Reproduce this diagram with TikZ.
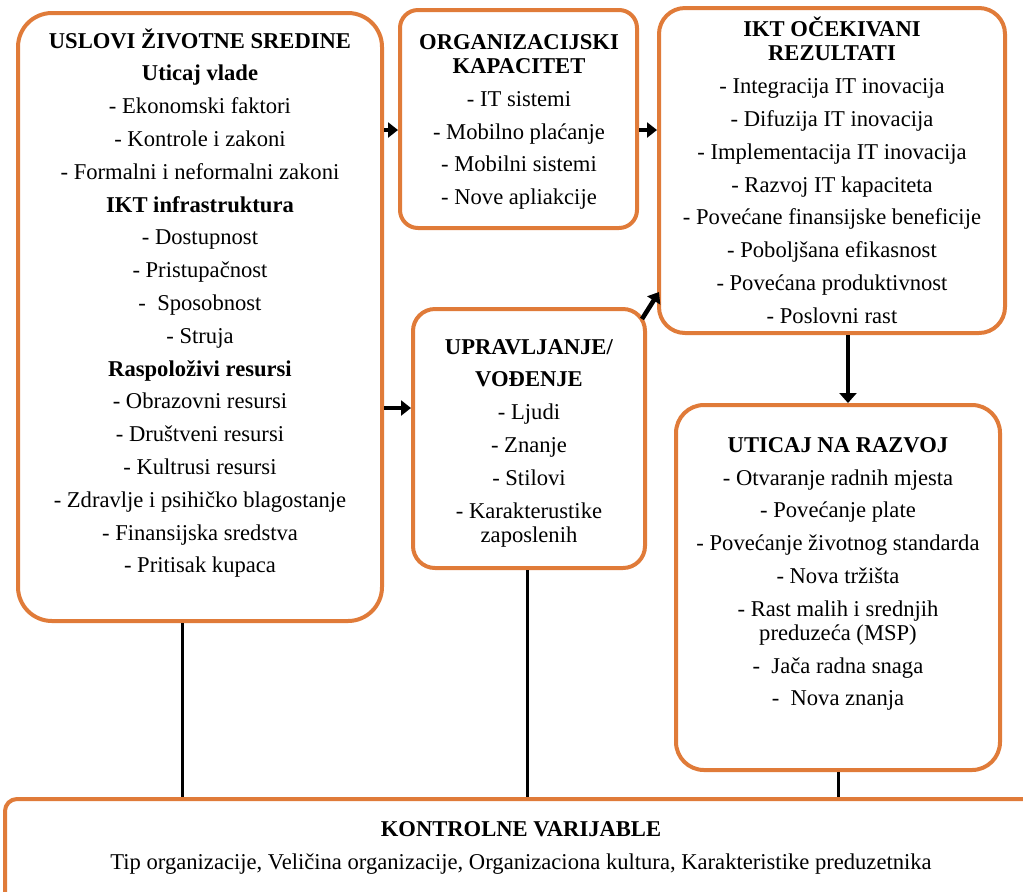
\documentclass[tikz,border=0pt]{standalone}
\usepackage{fontspec}
\setmainfont{Liberation Serif}
\usetikzlibrary{arrows.meta}
\definecolor{boxorange}{HTML}{E07B39}
\begin{document}
\begin{tikzpicture}[x=0.5pt,y=-0.5pt,
  box/.style={draw=boxorange, line width=2pt, rounded corners=#1, inner sep=0pt},
  txt/.style={align=center, inner sep=0pt, font=\fontsize{11.3pt}{16.4pt}\selectfont},
  arr/.style={line width=2.3pt, -{Triangle[length=5pt,width=7.5pt]}},
  link/.style={line width=1.5pt}]
\useasboundingbox (0,0) rectangle (1023,891);

% framed boxes
\node[box=17pt, minimum width=182pt, minimum height=304pt]   (box1) at (200,317)   {};
\node[box=9pt,  minimum width=118.5pt, minimum height=109pt] (box2) at (518.5,119) {};
\node[box=13pt, minimum width=173pt, minimum height=162.5pt] (box3) at (832,170.5) {};
\node[box=11pt, minimum width=116pt, minimum height=129.5pt] (box4) at (529,438.5) {};
\node[box=14pt, minimum width=162pt, minimum height=182.5pt] (box5) at (838,587.5) {};
\node[box=6pt,  minimum width=516pt, minimum height=56pt]    (box6) at (521,855)   {};

% box contents
\node[txt] (t1) at (200,303) {\textbf{USLOVI ŽIVOTNE SREDINE}\\
  \textbf{Uticaj vlade}\\
  - Ekonomski faktori\\
  - Kontrole i zakoni\\
  - Formalni i neformalni zakoni\\
  \textbf{IKT infrastruktura}\\
  - Dostupnost\\
  - Pristupačnost\\
  -\ \ Sposobnost\\
  - Struja\\
  \textbf{Raspoloživi resursi}\\
  - Obrazovni resursi\\
  - Društveni resursi\\
  - Kultrusi resursi\\
  - Zdravlje i psihičko blagostanje\\
  - Finansijska sredstva\\
  - Pritisak kupaca};

\node[txt] (t2) at (519,122) {\textbf{ORGANIZACIJSKI}\\[-4.4pt]
  \textbf{KAPACITET}\\
  - IT sistemi\\
  - Mobilno plaćanje\\
  - Mobilni sistemi\\
  - Nove apliakcije};

\node[txt] (t3) at (832,170) {\textbf{IKT OČEKIVANI}\\[-4pt]
  \textbf{REZULTATI}\\
  - Integracija IT inovacija\\
  - Difuzija IT inovacija\\
  - Implementacija IT inovacija\\
  - Razvoj IT kapaciteta\\
  - Povećane finansijske beneficije\\
  - Poboljšana efikasnost\\
  - Povećana produktivnost\\
  - Poslovni rast};

\node[txt] (t4) at (529,443) {\textbf{UPRAVLJANJE/}\\
  \textbf{VOĐENJE}\\
  - Ljudi\\
  - Znanje\\
  - Stilovi\\
  - Karakterustike\\[-4.4pt]
  zaposlenih};

\node[txt] (t5) at (838,574) {\textbf{UTICAJ NA RAZVOJ}\\
  - Otvaranje radnih mjesta\\
  - Povećanje plate\\
  - Povećanje životnog standarda\\
  - Nova tržišta\\
  - Rast malih i srednjih\\[-4.4pt]
  preduzeća (MSP)\\
  -\ \ Jača radna snaga\\
  -\ \ Nova znanja};

\node[txt] (t6) at (521,848) {\textbf{KONTROLNE VARIJABLE}\\
  Tip organizacije, Veličina organizacije, Organizaciona kultura, Karakteristike preduzetnika};

% arrows between boxes
\draw[arr] (box1.east |- 0,130) -- (box2.west |- 0,130);
\draw[arr] (box2.east |- 0,130) -- (box3.west |- 0,130);
\draw[arr] (box1.east |- 0,408) -- (box4.west |- 0,408);
\coordinate (d1) at (642,319);
\coordinate (d2) at (659,292);
\draw[arr] (d1) -- (d2);
\draw[arr, -{Triangle[length=5pt,width=8.5pt]}] (848,0 |- box3.south) -- (848,0 |- box5.north);

% links to the control variables
\draw[link] (182,0 |- box1.south) -- (182,0 |- box6.north);
\draw[link] (527,0 |- box4.south) -- (527,0 |- box6.north);
\draw[link] (838,0 |- box5.south) -- (838,0 |- box6.north);
\end{tikzpicture}
\end{document}
